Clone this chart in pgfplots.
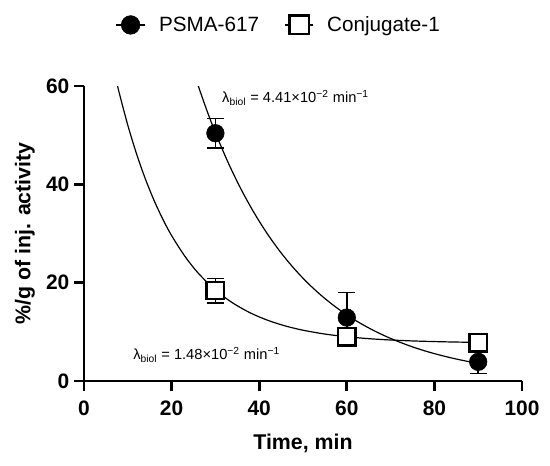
\documentclass[border=0pt]{standalone}
\usepackage{fontspec}
\setmainfont{Liberation Sans}
\usepackage{pgfplots}
\pgfplotsset{compat=1.18}
\begin{document}
\begin{tikzpicture}
\useasboundingbox (0,0) rectangle (412.5pt,348.75pt);
\begin{axis}[
  at={(63pt,63pt)}, anchor=south west,
  width=328.5pt, height=221.25pt, scale only axis,
  xmin=0, xmax=100, ymin=0, ymax=60,
  xtick={0,20,40,60,80,100}, ytick={0,20,40,60},
  axis lines=left,
  axis line style={-, line width=2pt},
  tick align=outside,
  major tick length=7.5pt,
  every tick/.style={black, line width=2pt},
  minor tick num=0,
  /pgf/number format/assume math mode=true,
  tick label style={font=\fontsize{15.7}{18}\selectfont\bfseries},
  xticklabel style={yshift=-4pt},
  xlabel={Time, min},
  ylabel={\%/g of inj. activity},
  label style={font=\fontsize{16}{19}\selectfont\bfseries},
  xlabel style={at={(axis description cs:0.5,-0.21)}, anchor=center},
  ylabel style={at={(axis description cs:-0.135,0.5)}, anchor=center},
  legend columns=2,
  legend style={draw=none, fill=none, at={(0.445,1.207)}, anchor=center,
    font=\fontsize{15.5}{18}\selectfont,
    /tikz/every odd column/.append style={column sep=8pt},
    /tikz/every even column/.append style={column sep=17pt},
    nodes={inner sep=2pt}},
  error bars/error bar style={line width=1.1pt, black},
  error bars/error mark options={line width=1.1pt, mark size=6.4pt, black, rotate=90},
]
\addlegendimage{legend image code/.code={
  \draw[black, line width=1.1pt] (0pt,0pt) -- (21.75pt,0pt);
  \filldraw[black] (10.9pt,0pt) circle (7pt);}}
\addlegendentry{PSMA-617}
\addlegendimage{legend image code/.code={
  \draw[black, line width=1.1pt] (0pt,0pt) -- (21pt,0pt);
  \draw[black, fill=white, line width=1.7pt] (3.3pt,-7pt) rectangle (17.7pt,7pt);}}
\addlegendentry{Conjugate-1}

% fitted curves
\addplot[black, line width=0.9pt, smooth, forget plot] coordinates {
 (26,60.24) (28,55.16) (30,50.5) (33,44.24) (36,38.76) (39,33.96) (42,29.75)
 (45,26.06) (48,22.83) (51,20.00) (54,17.53) (57,15.36) (60,13.45) (63,11.79)
 (66,10.33) (69,9.05) (72,7.93) (75,6.94) (78,6.08) (81,5.33) (84,4.67)
 (87,4.09) (90,3.58)};
\addplot[black, line width=0.9pt, smooth, forget plot] coordinates {
 (7,62.49) (8,58.75) (10,52.03) (12,46.19) (14,41.12) (16,36.72) (18,32.90)
 (20,29.58) (23,25.41) (26,22.02) (30,18.50) (34,15.85) (38,13.84) (42,12.33)
 (46,11.19) (50,10.33) (55,9.55) (60,9.00) (65,8.61) (70,8.34) (75,8.15)
 (80,8.02) (85,7.92) (90,7.86)};

% Conjugate-1
\addplot[forget plot, only marks, mark=square*, mark size=6.6pt,
  mark options={draw=black, fill=white, line width=1.7pt},
  error bars/.cd, y dir=both, y explicit]
  table[x=x, y=y, y error=e] {
x y e
30 18.4 2.5
60 9.0 1.2
90 7.8 0.8
};
% PSMA-617
\addplot[forget plot, only marks, mark=*, mark size=6.6pt,
  mark options={draw=black, fill=black},
  error bars/.cd, y dir=both, y explicit]
  table[x=x, y=y, y error=e] {
x y e
30 50.4 3.0
60 12.9 5.1
90 3.9 2.4
};

\node[anchor=west, inner sep=0pt, font=\fontsize{11}{13}\selectfont] at (axis cs:31.5,57.6)
  {λ\textsubscript{biol} = 4.41×10\textsuperscript{−2} min\textsuperscript{−1}};
\node[anchor=west, inner sep=0pt, font=\fontsize{11}{13}\selectfont] at (axis cs:11.2,5.3)
  {λ\textsubscript{biol} = 1.48×10\textsuperscript{−2} min\textsuperscript{−1}};
\end{axis}
\end{tikzpicture}
\end{document}
